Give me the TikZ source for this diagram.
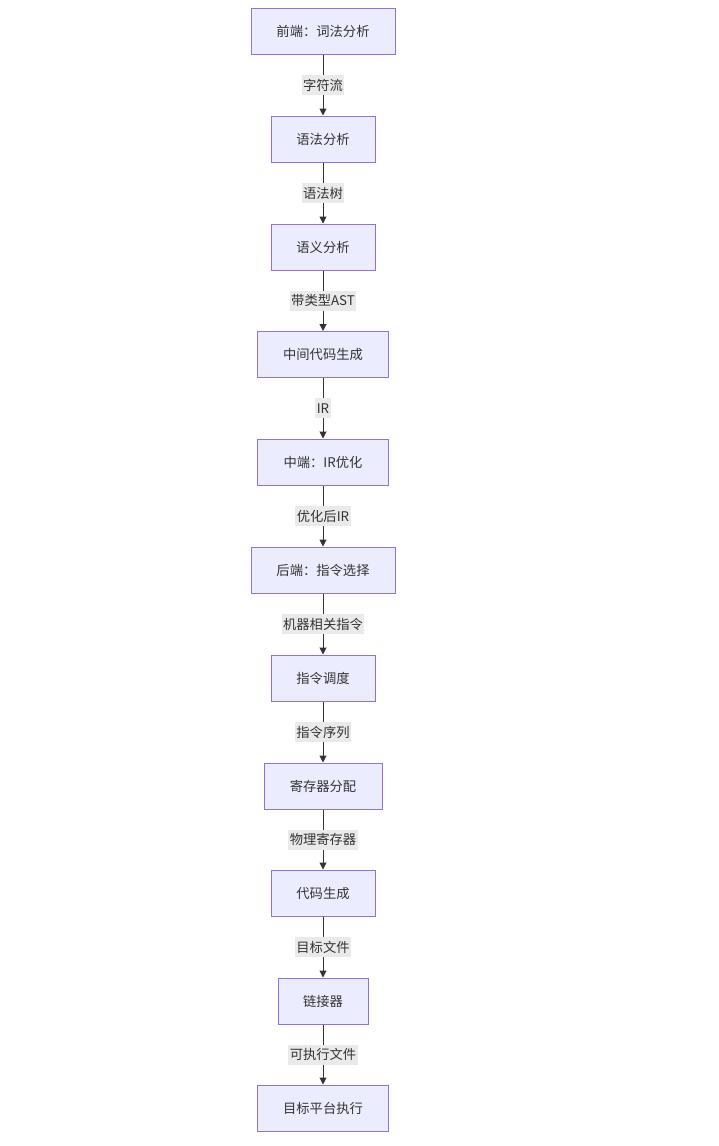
\documentclass[tikz,border=0pt]{standalone}
\usepackage{fontspec}
\setmainfont{Noto Sans CJK SC}
\usetikzlibrary{arrows.meta}
\definecolor{nodefill}{HTML}{ECECFF}
\definecolor{nodeline}{HTML}{9370DB}
\definecolor{txt}{HTML}{333333}
\definecolor{lblbg}{HTML}{EAEAEA}
\tikzset{
  stage/.style={draw=nodeline, fill=nodefill, line width=1pt, minimum height=46pt,
    inner sep=0pt, text=txt, font=\fontsize{13.3}{16}\selectfont},
  flow/.style={draw=txt, line width=1pt, -{Triangle[length=7pt,width=7pt]}},
  lbl/.style={fill=lblbg, text=txt, inner sep=1.5pt, minimum height=20pt,
    font=\fontsize{13.3}{16}\selectfont}
}
\begin{document}
\begin{tikzpicture}[x=1pt,y=-1pt]
\useasboundingbox (0,0) rectangle (719,1146);
\node[stage, minimum width=144pt] (n1) at (323,31) {前端：词法分析};
\node[stage, minimum width=104pt] (n2) at (323,139) {语法分析};
\node[stage, minimum width=104pt] (n3) at (323,247) {语义分析};
\node[stage, minimum width=131pt] (n4) at (323,354.5) {中间代码生成};
\node[stage, minimum width=131pt] (n5) at (323,462) {中端：IR优化};
\node[stage, minimum width=144pt] (n6) at (323,570) {后端：指令选择};
\node[stage, minimum width=104pt] (n7) at (323,678) {指令调度};
\node[stage, minimum width=118pt] (n8) at (323,786) {寄存器分配};
\node[stage, minimum width=104pt] (n9) at (323,893) {代码生成};
\node[stage, minimum width=90pt] (n10) at (323,1001) {链接器};
\node[stage, minimum width=131pt] (n11) at (323,1108) {目标平台执行};
\draw[flow] (n1) -- node[lbl] {字符流} (n2);
\draw[flow] (n2) -- node[lbl] {语法树} (n3);
\draw[flow] (n3) -- node[lbl] {带类型AST} (n4);
\draw[flow] (n4) -- node[lbl] {IR} (n5);
\draw[flow] (n5) -- node[lbl] {优化后IR} (n6);
\draw[flow] (n6) -- node[lbl] {机器相关指令} (n7);
\draw[flow] (n7) -- node[lbl] {指令序列} (n8);
\draw[flow] (n8) -- node[lbl] {物理寄存器} (n9);
\draw[flow] (n9) -- node[lbl] {目标文件} (n10);
\draw[flow] (n10) -- node[lbl] {可执行文件} (n11);
\end{tikzpicture}
\end{document}
